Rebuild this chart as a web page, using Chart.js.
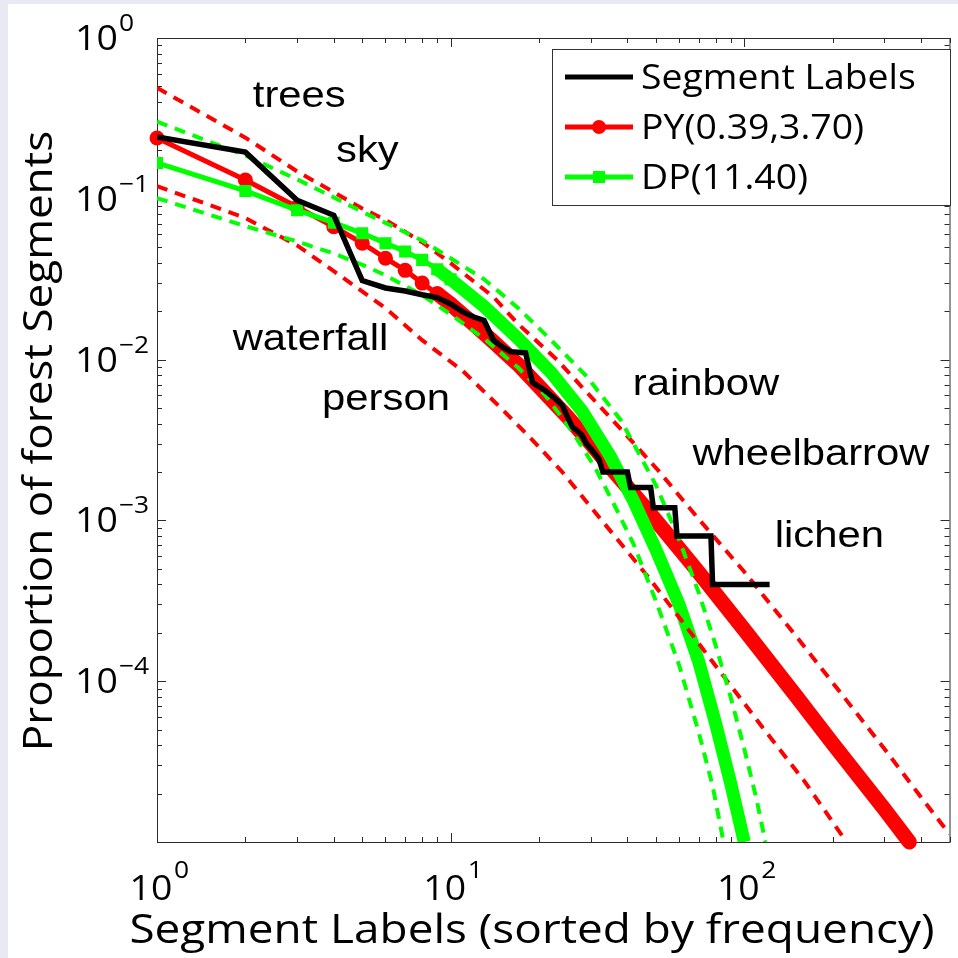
<!DOCTYPE html>
<html lang="en">
<head>
<meta charset="UTF-8" />
<title>Proportion of forest segments</title>
<script src="https://cdn.jsdelivr.net/npm/chart.js"></script>
<style>
  html, body { margin: 0; padding: 0; background: #fff; }
  #wrap { width: 958px; height: 958px; }
</style>
</head>
<body>
<div id="wrap"><canvas id="chart" width="958" height="958"></canvas></div>

<script>
  // empirical label frequencies (corner points of the black curve)
  const rankEmp = [1,2,3,4,5,6,7,8,9,10,11,12,13,14,15,16,18,19,20,21,22,23,24,25,26,27,28,29,30,31,32,33,40,41,48,49,58,59,77,78,122];
  const propEmp = [0.242,0.195,0.098,0.079,0.031,0.0279,0.0267,0.0253,0.0243,0.0222,0.0198,0.0184,0.0175,0.0132,0.0120,0.0112,0.0110,
    0.0072,0.0068,0.0064,0.0060,0.0056,0.0052,0.0044,0.0038,0.0036,0.0034,0.0030,0.0028,0.0026,0.0024,0.0020,
    0.0020,0.0016,0.0016,0.0012,0.0012,0.0008,0.0008,0.0004,0.0004];

  // Pitman-Yor fit and its bounds
  const rankPY = [1,2,3,4,5,6,7,8,9,10,12,14,17,20,25,30,37,45,55,69,100,150,200,300,365];
  const propPY = [0.239,0.131,0.089,0.067,0.053,0.0427,0.0359,0.0299,0.0257,0.0221,0.0166,0.0129,0.0093,0.0068,0.0044,0.0030,
    0.0019,0.00126,0.00081,0.00049,0.000209,0.000081,0.000041,0.000016,0.00001];
  const rankPYHi = [1,2,3,4,5,6,8,10,14,17,23,29,38,51,69,100,150,223,300,400,500];
  const propPYHi = [0.49,0.24,0.148,0.110,0.087,0.074,0.0537,0.0398,0.0245,0.0166,0.0100,0.0063,0.0037,0.00204,0.00105,
    0.000479,0.000191,0.000076,0.000038,0.000019,0.0000112];
  const rankPYLo = [1,2,3,4,6,8,11,15,19,24,32,47,61,75,117,160,223];
  const propPYLo = [0.120,0.0759,0.0513,0.0355,0.0209,0.0132,0.0085,0.0049,0.00316,0.0020,0.00105,0.000447,0.00024,0.000145,
    0.00005,0.000024,0.00001];

  // Dirichlet process fit and its bounds
  const rankDP = [1,2,3,4,5,6,7,8,9,10,13,17,22,28,35,42,50,60,70,80,90,100];
  const propDP = [0.167,0.112,0.085,0.071,0.061,0.053,0.047,0.0417,0.0365,0.0316,0.0214,0.0135,0.0083,0.0048,0.0025,0.00132,
    0.00066,0.00030,0.000132,0.000054,0.000023,0.00001];
  const rankDPHi = [1,2,3,4,5,6,8,10,13,17,22,29,38,50,60,70,80,90,100,110,118];
  const propDPHi = [0.302,0.186,0.132,0.102,0.083,0.0708,0.055,0.0427,0.0316,0.0209,0.0132,0.0079,0.0042,0.00166,0.00076,
    0.000355,0.000166,0.000079,0.000038,0.0000186,0.00001];
  const rankDPLo = [1,2,3,4,5,6,8,10,13,17,21,26,31,36,42,50,60,70,78,85];
  const propDPLo = [0.101,0.0676,0.0543,0.0457,0.0389,0.0335,0.0251,0.0191,0.0135,0.0089,0.0060,0.00355,0.00214,0.00126,
    0.00071,0.000316,0.000126,0.0000479,0.0000224,0.00001];

  const seriesNames = ['Segment Labels', 'PY(0.39,3.70)', 'DP(11.40)'];
  const xTickExp = [0, 1, 2];
  const yTickExp = [0, -1, -2, -3, -4];
  const xTitle = 'Segment Labels (sorted by frequency)';
  const yTitle = 'Proportion of forest Segments';

  // words written inside the plot, at (rank, proportion)
  const noteWords = ['trees', 'sky', 'waterfall', 'person', 'rainbow', 'wheelbarrow', 'lichen'];
  const noteRank = [2.12, 4.07, 1.81, 3.65, 41.7, 66.6, 127];
  const noteProp = [0.372, 0.169, 0.0115, 0.00486, 0.0060, 0.00221, 0.00068];

  const RED = '#ff0000';
  const GREEN = '#00ff00';
  const FONT = '"Open Sans", "DejaVu Sans", sans-serif';
  const NOTE_FONT = '"Liberation Sans", Arial, sans-serif';

  const pts = (xs, ys) => xs.map((x, i) => ({ x: x, y: ys[i] }));

  // text drawn a little wider than the font, like the original figure
  function wideText(c, str, x, y, size, family, align, sx) {
    c.save();
    c.font = size + 'px ' + family;
    c.textAlign = 'left';
    c.textBaseline = 'alphabetic';
    const w = c.measureText(str).width * sx;
    let x0 = x;
    if (align === 'center') x0 = x - w / 2;
    if (align === 'right') x0 = x - w;
    c.translate(x0, y);
    c.scale(sx, 1);
    c.fillText(str, 0, 0);
    c.restore();
    return w;
  }

  const axesBox = {
    id: 'axesBox',
    beforeDraw(chart) {
      const c = chart.ctx;
      c.save();
      c.fillStyle = '#e9e9f3';
      c.fillRect(0, 0, chart.width, chart.height);
      c.fillStyle = '#fff';
      c.fillRect(8, 4, chart.width - 8, chart.height - 4);
      c.restore();
    },
    beforeDatasetsDraw(chart) {
      const c = chart.ctx;
      const a = chart.chartArea;
      const x = chart.scales.x, y = chart.scales.y;
      c.save();
      c.strokeStyle = '#2b2b2b';
      c.lineWidth = 1;
      c.beginPath();
      for (let e = 0; e <= 2; e++) {
        for (let m = 1; m <= 9; m++) {
          const v = m * Math.pow(10, e);
          if (v > x.max) break;
          const px = Math.round(x.getPixelForValue(v)) + 0.5;
          const len = m === 1 ? 9 : 5;
          c.moveTo(px, a.bottom); c.lineTo(px, a.bottom - len);
          c.moveTo(px, a.top); c.lineTo(px, a.top + len);
        }
      }
      for (let e = -5; e < 0; e++) {
        for (let m = 1; m <= 9; m++) {
          const py = Math.round(y.getPixelForValue(m * Math.pow(10, e))) + 0.5;
          const len = m === 1 ? 9 : 5;
          c.moveTo(a.left, py); c.lineTo(a.left + len, py);
          c.moveTo(a.right, py); c.lineTo(a.right - len, py);
        }
      }
      c.stroke();
      c.strokeRect(a.left + 0.5, a.top + 0.5, a.right - a.left, a.bottom - a.top);
      c.restore();
    },
    afterDraw(chart) {
      const c = chart.ctx;
      const a = chart.chartArea;
      const x = chart.scales.x, y = chart.scales.y;
      c.save();
      c.fillStyle = '#000';

      // tick labels 10^n
      yTickExp.forEach(e => {
        const py = y.getPixelForValue(Math.pow(10, e));
        wideText(c, '10', 75, py + 12, 34, FONT, 'left', 1.1);
        wideText(c, e === 0 ? '0' : '\u2212' + (-e), 119, py - 7, 24, FONT, 'left', 1.1);
      });
      xTickExp.forEach(e => {
        const px = x.getPixelForValue(Math.pow(10, e)) - 6;
        wideText(c, '10', px, a.bottom + 58, 34, FONT, 'center', 1.1);
        wideText(c, String(e), px + 23, a.bottom + 36, 24, FONT, 'left', 1.1);
      });

      // axis titles
      wideText(c, xTitle, 532, 943, 41, FONT, 'center', 1.12);
      c.save();
      c.translate(52, 441);
      c.rotate(-Math.PI / 2);
      wideText(c, yTitle, 0, 0, 40, FONT, 'center', 1.1);
      c.restore();

      // words in the plot
      noteWords.forEach((w, i) => {
        wideText(c, w, x.getPixelForValue(noteRank[i]), y.getPixelForValue(noteProp[i]), 37, NOTE_FONT, 'left', 1.13);
      });

      // legend box
      const lx = 552, ly = 49, lw = 398, lh = 156;
      c.fillStyle = '#fff';
      c.fillRect(lx, ly, lw, lh);
      c.strokeStyle = '#333';
      c.lineWidth = 1;
      c.strokeRect(lx + 0.5, ly + 0.5, lw, lh);
      const colors = ['#000', RED, GREEN];
      seriesNames.forEach((name, i) => {
        const ry = ly + 28 + i * 50;
        c.strokeStyle = colors[i];
        c.lineWidth = 5;
        c.beginPath();
        c.moveTo(565, ry); c.lineTo(633, ry);
        c.stroke();
        c.fillStyle = colors[i];
        if (i === 1) { c.beginPath(); c.arc(599, ry, 7, 0, Math.PI * 2); c.fill(); }
        if (i === 2) { c.fillRect(593, ry - 6, 12, 12); }
        c.fillStyle = '#000';
        wideText(c, name, 641, ry + 12, 34, FONT, 'left', 1.1);
      });
      c.restore();
    }
  };

  const dashed = (label, data, color) => ({
    label: label,
    data: data,
    borderColor: color,
    borderWidth: 4,
    borderDash: [11, 8],
    pointRadius: 0,
    fill: false
  });

  new Chart(document.getElementById('chart'), {
    type: 'line',
    data: {
      datasets: [
        {
          label: seriesNames[0],
          data: pts(rankEmp, propEmp),
          borderColor: '#000',
          borderWidth: 5.5,
          pointRadius: 0,
          fill: false
        },
        dashed('DP upper', pts(rankDPHi, propDPHi), GREEN),
        dashed('DP lower', pts(rankDPLo, propDPLo), GREEN),
        dashed('PY upper', pts(rankPYHi, propPYHi), RED),
        dashed('PY lower', pts(rankPYLo, propPYLo), RED),
        {
          label: seriesNames[2],
          data: pts(rankDP, propDP),
          borderColor: GREEN,
          backgroundColor: GREEN,
          borderWidth: 5,
          pointStyle: 'rect',
          pointRadius: c => rankDP[c.dataIndex] <= 10 ? 8.5 : 0,
          pointBorderWidth: 0,
          segment: { borderWidth: c => rankDP[c.p0DataIndex] >= 9 ? 13 : 5 },
          fill: false
        },
        {
          label: seriesNames[1],
          data: pts(rankPY, propPY),
          borderColor: RED,
          backgroundColor: RED,
          borderWidth: 5,
          borderCapStyle: 'round',
          borderJoinStyle: 'round',
          pointStyle: 'circle',
          pointRadius: c => rankPY[c.dataIndex] <= 10 ? 7.5 : 0,
          pointBorderWidth: 0,
          segment: { borderWidth: c => rankPY[c.p0DataIndex] >= 9 ? 15 : 5 },
          clip: false,
          fill: false
        }
      ]
    },
    options: {
      responsive: false,
      animation: false,
      events: [],
      layout: { padding: { left: 157, top: 38, right: 5, bottom: 116 } },
      plugins: { legend: { display: false }, tooltip: { enabled: false } },
      scales: {
        x: { type: 'logarithmic', min: 1, max: 500, display: false },
        y: { type: 'logarithmic', min: 1e-5, max: 1, display: false }
      }
    },
    plugins: [axesBox]
  });
</script>
</body>
</html>
